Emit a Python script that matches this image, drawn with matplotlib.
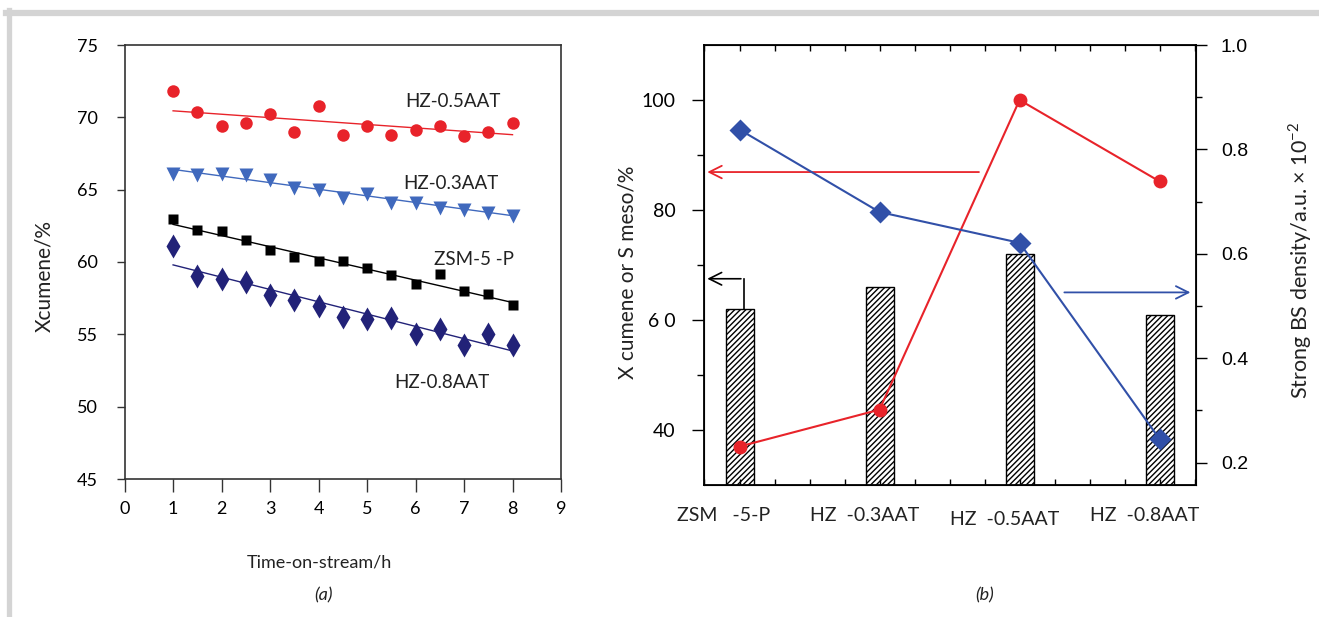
import numpy as np
import matplotlib
matplotlib.use("Agg")
import matplotlib.pyplot as plt
from matplotlib.ticker import MultipleLocator, FixedLocator
from matplotlib.lines import Line2D

plt.rcParams['font.family'] = ['Lato', 'DejaVu Sans']
plt.rcParams['mathtext.fontset'] = 'custom'
plt.rcParams['mathtext.rm'] = 'Lato'

# ---- panel (a): conversion vs time on stream ----
time_h = [1, 1.5, 2, 2.5, 3, 3.5, 4, 4.5, 5, 5.5, 6, 6.5, 7, 7.5, 8]
hz05 = [71.8, 70.4, 69.4, 69.6, 70.2, 69.0, 70.8, 68.8, 69.4, 68.75, 69.1, 69.4, 68.7, 69.0, 69.6]
hz03 = [66.1, 66.0, 66.1, 66.0, 65.7, 65.1, 65.0, 64.4, 64.7, 64.1, 64.1, 63.7, 63.6, 63.4, 63.15]
zsm5p = [63.0, 62.2, 62.15, 61.5, 60.8, 60.35, 60.1, 60.05, 59.6, 59.1, 58.45, 59.2, 58.0, 57.8, 57.0]
hz08 = [61.1, 59.0, 58.85, 58.6, 57.7, 57.4, 56.95, 56.2, 56.05, 56.1, 55.0, 55.4, 54.25, 55.0, 54.25]

# trend lines (values at t = 1 h and t = 8 h)
fit_t = [1, 8]
fit_hz05 = [70.45, 68.8]
fit_hz03 = [66.4, 63.2]
fit_zsm5p = [62.6, 57.2]
fit_hz08 = [59.8, 53.85]

# ---- panel (b): catalysts comparison ----
catalysts = ['ZSM   -5-P', 'HZ  -0.3AAT', 'HZ  -0.5AAT', 'HZ  -0.8AAT']
s_meso = [62, 66, 72, 61]
x_cumene = [37.0, 43.7, 100.0, 85.2]
bs_density = [0.838, 0.68, 0.621, 0.245]

red = '#e8232a'
blue3 = '#4069bd'
navy = '#222278'
blue_b = '#3150a8'

fig = plt.figure(figsize=(13.19, 6.17), dpi=100)

# grey frame of the figure box
fig.add_artist(Line2D([6 / 1319, 1.0], [1 - 13 / 617] * 2, color='#d4d4d4', lw=4.5))
fig.add_artist(Line2D([8.5 / 1319] * 2, [0, 1 - 10 / 617], color='#d4d4d4', lw=3.8))

# ===================== (a) =====================
ax1 = fig.add_axes([124.6 / 1319, 1 - 479 / 617, (561 - 124.6) / 1319, (479 - 45) / 617])
ax1.plot(time_h, hz05, 'o', color=red, ms=9, mec='none')
ax1.plot(fit_t, fit_hz05, '-', color=red, lw=1)
ax1.plot(time_h, hz03, 'v', color=blue3, ms=10, mec='none')
ax1.plot(fit_t, fit_hz03, '-', color=blue3, lw=1)
ax1.plot(time_h, zsm5p, 's', color='black', ms=7.5, mec='none')
ax1.plot(fit_t, fit_zsm5p, '-', color='black', lw=1)
ax1.plot(time_h, hz08, 'd', color=navy, ms=12, mec='none')
ax1.plot(fit_t, fit_hz08, '-', color=navy, lw=1)

ax1.set_xlim(0, 9)
ax1.set_ylim(45, 75)
ax1.set_xticks(range(0, 10))
ax1.set_yticks(range(45, 80, 5))
ax1.tick_params(axis='x', direction='out', length=9, width=1, pad=7, labelsize=13, color='#333333')
ax1.tick_params(axis='y', direction='out', length=6, width=1, pad=13, labelsize=13, color='#333333')
for sp in ax1.spines.values():
    sp.set_color('#333333')
    sp.set_linewidth(1.2)

ax1.text(5.78, 71.06, 'HZ-0.5AAT', fontsize=13.5, va='center', ha='left', color='#222222')
ax1.text(5.75, 65.46, 'HZ-0.3AAT', fontsize=13.5, va='center', ha='left', color='#222222')
ax1.text(6.38, 60.14, 'ZSM-5 -P', fontsize=13.5, va='center', ha='left', color='#222222')
ax1.text(5.57, 51.64, 'HZ-0.8AAT', fontsize=13.5, va='center', ha='left', color='#222222')

fig.text(44 / 1319, 1 - 276 / 617, 'Xcumene/%', rotation=90, fontsize=15,
         ha='center', va='center', color='#222222')
fig.text(319 / 1319, 1 - 563 / 617, 'Time-on-stream/h', fontsize=13, ha='center', va='center',
         color='#222222')
fig.text(323 / 1319, 1 - 595 / 617, '(a)', fontsize=13, style='italic', ha='center', va='center',
         color='#222222')

# ===================== (b) =====================
ax2 = fig.add_axes([704.5 / 1319, 1 - 485 / 617, (1196 - 704.5) / 1319, (485 - 45) / 617])
xc = np.arange(len(catalysts))
ax2.bar(xc, s_meso, width=0.2, bottom=0, color='white', edgecolor='black', lw=1,
        hatch='//////', zorder=1)
ax2.plot(xc, x_cumene, '-o', color=red, lw=1.5, ms=10, mec='none', zorder=3)
ax2.set_xlim(-0.25, 3.26)
ax2.set_ylim(30, 110)
ax2.set_yticks([40, 60, 80, 100])
ax2.set_yticklabels(['40', '6 0', '80', '100'], family=['Liberation Sans Narrow', 'Lato'])
ax2.yaxis.set_minor_locator(FixedLocator([50, 70, 90]))
ax2.set_xticks([])
ax2.xaxis.set_minor_locator(MultipleLocator(0.25))
ax2.tick_params(axis='y', which='major', direction='out', length=9, width=1, pad=12, labelsize=14)
ax2.tick_params(axis='y', which='minor', direction='out', length=5, width=1)
ax2.tick_params(axis='x', which='minor', direction='in', length=4, width=1, top=True, bottom=True)
for sp in ax2.spines.values():
    sp.set_linewidth(1.3)

ax3 = ax2.twinx()
ax3.plot(xc, bs_density, '-D', color=blue_b, lw=1.5, ms=11, mec='none', zorder=3)
ax3.set_ylim(0.157, 1.0)
ax3.set_yticks([0.2, 0.4, 0.6, 0.8, 1.0])
ax3.set_yticklabels(['0.2', '0.4', '0.6', '0.8', '1.0'], family=['Liberation Sans', 'DejaVu Sans'])
ax3.yaxis.set_minor_locator(FixedLocator([0.3, 0.5, 0.7, 0.9]))
ax3.tick_params(axis='y', which='major', direction='out', length=8, width=1, pad=10, labelsize=14)
ax3.tick_params(axis='y', which='minor', direction='out', length=4, width=1)

# arrows pointing to the axes
ax2.annotate('', xy=(-0.25, 86.9), xytext=(1.73, 86.9),
             arrowprops=dict(arrowstyle='->,head_length=0.9,head_width=0.45', color=red, lw=1.3))
ax2.plot([0.03, 0.03], [s_meso[0], 67.5], color='black', lw=1.2)
ax2.annotate('', xy=(-0.25, 67.5), xytext=(0.03, 67.5),
             arrowprops=dict(arrowstyle='->,head_length=0.9,head_width=0.45', color='black', lw=1.2))
ax3.annotate('', xy=(3.24, 0.526), xytext=(2.30, 0.526),
             arrowprops=dict(arrowstyle='->,head_length=0.9,head_width=0.45', color=blue_b, lw=1.3))

# category labels under the axis
for i, name in enumerate(catalysts):
    ax2.text(i - 0.11, -0.07 if i != 2 else -0.078, name, transform=ax2.get_xaxis_transform(),
             fontsize=14, ha='center', va='center', family=['Liberation Sans Narrow', 'Lato'],
             color='#222222')

fig.text(627 / 1319, 1 - 272 / 617, 'X cumene or S meso/%', rotation=90,
         fontsize=15, ha='center', va='center', color='#222222')
fig.text(1300 / 1319, 1 - 260 / 617, r'Strong BS density/a.u. $\times$ 10$^{-2}$', rotation=90,
         fontsize=15.5, ha='center', va='center', color='#222222')
fig.text(985 / 1319, 1 - 595 / 617, '(b)', fontsize=13, style='italic', ha='center', va='center',
         color='#222222')

fig.savefig('out.png', dpi=100)
